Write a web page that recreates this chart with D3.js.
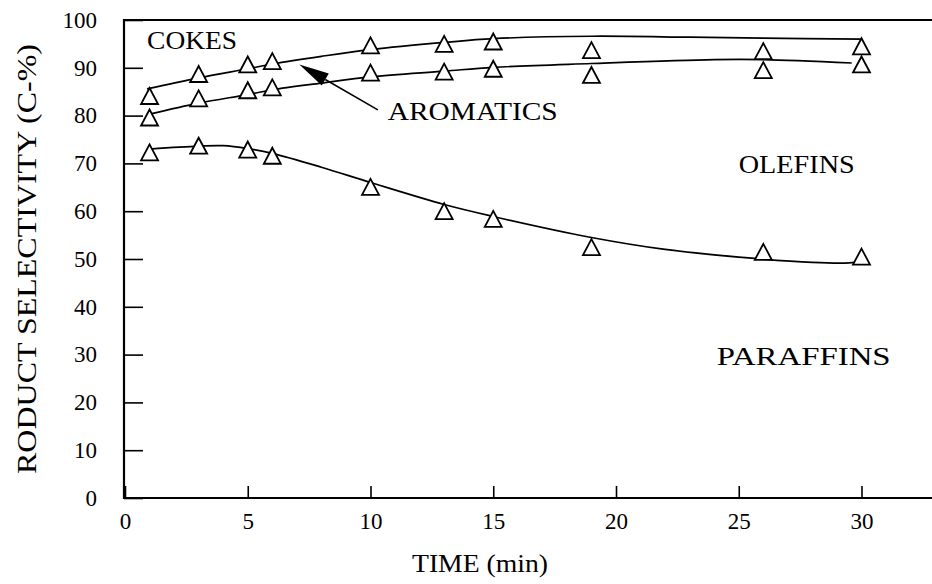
<!DOCTYPE html>
<html>
<head>
<meta charset="utf-8">
<script src="https://cdn.jsdelivr.net/npm/d3@7"></script>
<style>
  body { margin: 0; background: #fff; }
  svg { display: block; }
  text { font-family: "Liberation Serif", "Times New Roman", serif; fill: #000; }
</style>
</head>
<body>
<svg id="chart" width="932" height="584"></svg>
<script>
// sampling times (min) of the measured points
var times = [1, 3, 5, 6, 10, 13, 15, 19, 26, 30];

// measured points, one array per boundary curve (C-%)
var cokesPoints = [84.1, 88.7, 90.7, 91.4, 94.7, 95.0, 95.5, 93.7, 93.5, 94.5];
var aromaticsPoints = [79.6, 83.6, 85.3, 85.9, 89.0, 89.2, 89.8, 88.5, 89.5, 90.7];
var paraffinsPoints = [72.3, 73.7, 72.9, 71.6, 65.1, 60.0, 58.4, 52.5, 51.5, 50.5];

// hand-fitted curves: [time, value]
var cokesCurve = [[0.9, 85.6], [3, 87.9], [5, 89.8], [6, 90.8], [8, 92.4], [10, 93.8],
  [13, 95.3], [15, 96.1], [19, 96.6], [23, 96.4], [26, 96.2], [30, 96.0]];
var aromaticsCurve = [[1, 80.3], [3, 82.6], [5, 84.4], [6, 85.4], [8, 86.8], [10, 88.1],
  [13, 89.3], [15, 90.1], [19, 90.9], [24, 91.7], [26, 91.7], [29.6, 91.0]];
var paraffinsCurve = [[1, 73.0], [3, 73.6], [4, 73.7], [5, 73.1], [6, 72.1], [8, 69.2],
  [10, 66.0], [13, 61.4], [15, 58.9], [19, 54.5], [22, 52.0], [25, 50.4], [28, 49.3],
  [29.5, 49.2], [30, 49.5]];

var xTicks = [0, 5, 10, 15, 20, 25, 30];
var yTicks = [0, 10, 20, 30, 40, 50, 60, 70, 80, 90, 100];

// region labels: text, time, value (baseline), width in px
var regionLabels = [
  { text: 'COKES', x: 0.9, y: 93.9, width: 90 },
  { text: 'AROMATICS', x: 10.7, y: 79.1, width: 170 },
  { text: 'OLEFINS', x: 25.0, y: 68.0, width: 116 },
  { text: 'PARAFFINS', x: 24.1, y: 27.8, width: 174 }
];
// arrow from the AROMATICS label to the band
var arrow = { from: [10.3, 81.2], to: [7.1, 90.7] };

var svg = d3.select('#chart');
var plotLeft = 125, plotBottom = 498, plotTop = 20, plotRight = 932;

var x = d3.scaleLinear().domain([0, 33]).range([plotLeft, plotLeft + 33 * 24.55]);
var y = d3.scaleLinear().domain([0, 100]).range([plotBottom, plotTop]);

// axes, ticks pointing inwards
var xAxis = d3.axisBottom(x).tickValues(xTicks).tickSize(-12).tickSizeOuter(0).tickPadding(15);
var yAxis = d3.axisLeft(y).tickValues(yTicks).tickSize(-19).tickSizeOuter(0).tickPadding(27);

var gx = svg.append('g').attr('transform', 'translate(0,' + plotBottom + ')').call(xAxis);
var gy = svg.append('g').attr('transform', 'translate(' + (plotLeft - 1) + ',0)').call(yAxis);

[gx, gy].forEach(function (g) {
  g.select('.domain').remove();
  g.selectAll('.tick line').attr('stroke', '#000').attr('stroke-width', 1.6);
  g.selectAll('.tick text').attr('font-size', 23).attr('font-family', '"Liberation Serif", serif');
});

// frame: left, bottom and top lines (figure is cropped on the right)
svg.append('path')
  .attr('d', 'M' + plotRight + ',' + plotTop + 'H' + (plotLeft - 1) + 'V' + plotBottom + 'H' + plotRight)
  .attr('fill', 'none')
  .attr('stroke', '#000')
  .attr('stroke-width', 2.2);

// axis titles
svg.append('text')
  .attr('x', 480)
  .attr('y', 572)
  .attr('text-anchor', 'middle')
  .attr('font-size', 26)
  .attr('textLength', 136)
  .attr('lengthAdjust', 'spacingAndGlyphs')
  .text('TIME (min)');

svg.append('text')
  .attr('transform', 'translate(36,' + 259 + ') rotate(-90)')
  .attr('text-anchor', 'middle')
  .attr('font-size', 27)
  .attr('textLength', 430)
  .attr('lengthAdjust', 'spacingAndGlyphs')
  .text('RODUCT SELECTIVITY (C-%)');

// fitted curves
var line = d3.line()
  .x(function (d) { return x(d[0]); })
  .y(function (d) { return y(d[1]); })
  .curve(d3.curveCatmullRom.alpha(0.5));

[cokesCurve, aromaticsCurve, paraffinsCurve].forEach(function (c) {
  svg.append('path')
    .attr('d', line(c))
    .attr('fill', 'none')
    .attr('stroke', '#000')
    .attr('stroke-width', 1.7);
});

// open triangle markers, centred on their bounding box
var triangle = function (cx, cy) {
  var hw = 8.5, hh = 8;
  return 'M' + cx + ',' + (cy - hh) + 'L' + (cx + hw) + ',' + (cy + hh) +
    'L' + (cx - hw) + ',' + (cy + hh) + 'Z';
};

[cokesPoints, aromaticsPoints, paraffinsPoints].forEach(function (values) {
  svg.append('g').selectAll('path')
    .data(values)
    .enter().append('path')
    .attr('d', function (v, i) { return triangle(x(times[i]), y(v)); })
    .attr('fill', '#fff')
    .attr('stroke', '#000')
    .attr('stroke-width', 1.8)
    .attr('stroke-linejoin', 'miter');
});

// region labels
svg.append('g').selectAll('text')
  .data(regionLabels)
  .enter().append('text')
  .attr('x', function (d) { return x(d.x); })
  .attr('y', function (d) { return y(d.y); })
  .attr('font-size', 26)
  .attr('textLength', function (d) { return d.width; })
  .attr('lengthAdjust', 'spacingAndGlyphs')
  .text(function (d) { return d.text; });

// arrow with filled head
var ax0 = x(arrow.from[0]), ay0 = y(arrow.from[1]);
var ax1 = x(arrow.to[0]), ay1 = y(arrow.to[1]);
var ang = Math.atan2(ay1 - ay0, ax1 - ax0);
var headLen = 30, headHalf = 7;
var bx = ax1 - headLen * Math.cos(ang), by = ay1 - headLen * Math.sin(ang);

svg.append('line')
  .attr('x1', ax0).attr('y1', ay0)
  .attr('x2', bx).attr('y2', by)
  .attr('stroke', '#000')
  .attr('stroke-width', 1.6);

svg.append('path')
  .attr('d', 'M' + ax1 + ',' + ay1 +
    'L' + (bx - headHalf * Math.sin(ang)) + ',' + (by + headHalf * Math.cos(ang)) +
    'L' + (bx + headHalf * Math.sin(ang)) + ',' + (by - headHalf * Math.cos(ang)) + 'Z')
  .attr('fill', '#000');
</script>
</body>
</html>
